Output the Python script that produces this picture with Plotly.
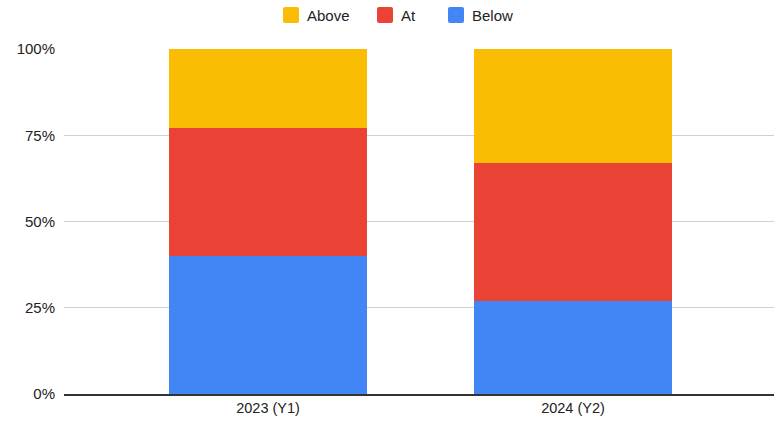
import plotly.graph_objects as go

years = ["2023 (Y1)", "2024 (Y2)"]
below = [40, 27]
at = [37, 40]
above = [23, 33]
tick_vals = [0, 25, 50, 75, 100]
tick_text = ["0%", "25%", "50%", "75%", "100%"]

series = [
    ("Below", below, "#4285F4"),
    ("At", at, "#EA4335"),
    ("Above", above, "#FBBC04"),
]

W, H = 774, 422
ML, MR, MT, MB = 64, 0, 49, 28
plot_w = W - ML - MR
plot_h = H - MT - MB


def px_x(x):
    return (x - ML) / plot_w


def px_y(y):
    return (H - MB - y) / plot_h


fig = go.Figure()
for name, vals, color in series:
    fig.add_trace(go.Bar(
        x=years, y=vals, name=name,
        marker=dict(color=color, line=dict(width=0)),
        width=0.652,
        hoverinfo="skip",
        showlegend=False,
    ))

# Legend across the top: rounded swatch + label, in Above / At / Below order
legend_left = {"Above": 283, "At": 377, "Below": 448}
sw = 16
cy = 15
r = 2
for name, _, color in reversed(series):
    x0 = legend_left[name]
    x1 = x0 + sw
    y0, y1 = cy - sw / 2, cy + sw / 2
    path = (
        f"M{px_x(x0 + r)},{px_y(y0)} L{px_x(x1 - r)},{px_y(y0)} "
        f"Q{px_x(x1)},{px_y(y0)} {px_x(x1)},{px_y(y0 + r)} "
        f"L{px_x(x1)},{px_y(y1 - r)} Q{px_x(x1)},{px_y(y1)} {px_x(x1 - r)},{px_y(y1)} "
        f"L{px_x(x0 + r)},{px_y(y1)} Q{px_x(x0)},{px_y(y1)} {px_x(x0)},{px_y(y1 - r)} "
        f"L{px_x(x0)},{px_y(y0 + r)} Q{px_x(x0)},{px_y(y0)} {px_x(x0 + r)},{px_y(y0)} Z"
    )
    fig.add_shape(type="path", path=path, xref="paper", yref="paper",
                  fillcolor=color, line=dict(width=0))
    fig.add_annotation(
        x=px_x(x1 + 6), y=px_y(cy), xref="paper", yref="paper",
        text=name, showarrow=False, xanchor="left", yanchor="middle",
        font=dict(size=15, color="#222222"),
    )

fig.update_layout(
    barmode="stack",
    width=W, height=H,
    margin=dict(l=ML, r=MR, t=MT, b=MB),
    paper_bgcolor="white",
    plot_bgcolor="white",
    font=dict(family="Liberation Sans, Arial, sans-serif", size=15, color="#222222"),
    showlegend=False,
    xaxis=dict(
        type="category",
        range=[-0.669, 1.659],
        showgrid=False,
        showline=True, linecolor="#333333", linewidth=1.5,
        ticks="", tickfont=dict(size=14.5, color="#222222"),
        fixedrange=True,
    ),
    yaxis=dict(
        range=[0, 100],
        tickvals=tick_vals, ticktext=tick_text,
        showgrid=True, gridcolor="#d0d0d0", gridwidth=1,
        zeroline=False, showline=False,
        ticks="", ticklabelstandoff=8,
        tickfont=dict(size=15, color="#222222"),
        fixedrange=True,
    ),
)

fig.write_html("out.html")
